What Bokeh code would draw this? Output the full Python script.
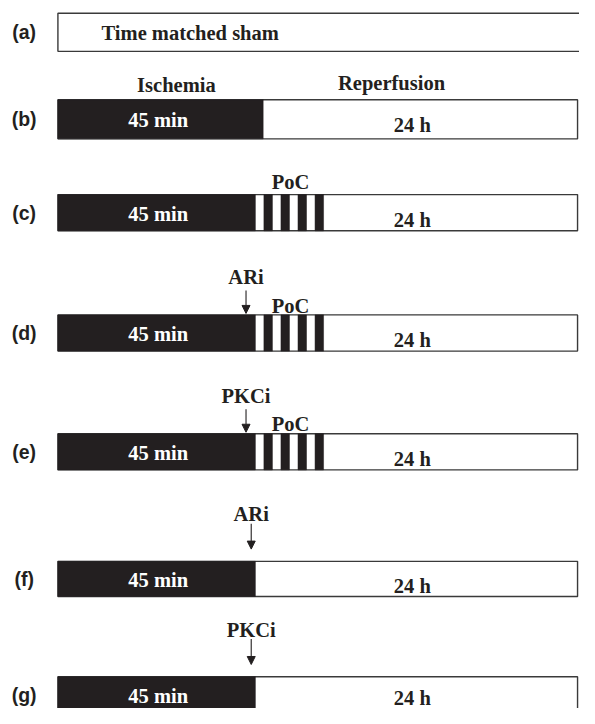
from bokeh.plotting import figure
from bokeh.models import ColumnDataSource, Range1d, Arrow, NormalHead
from bokeh.core.properties import value
from bokeh.embed import file_html
from bokeh.resources import INLINE

# ---------------- data (schematic timeline units, 0 = start of protocol, 100 = end of box) ----
row_labels = ["(a)", "(b)", "(c)", "(d)", "(e)", "(f)", "(g)"]
row_center = [32.5, 121.5, 217, 340, 461.5, 591.5, 710]
row_height = [39, 40, 37, 37, 37, 36, 37]
ischemia_end = [0, 39.5, 38.0, 38.0, 38.0, 38.0, 38.0]
poc_cycles = [0, 0, 4, 4, 4, 0, 0]
poc_cycle_len = 3.28
drug = ["", "", "", "ARi", "PKCi", "ARi", "PKCi"]
drug_at = [0, 0, 0, 36.2, 36.2, 37.2, 37.2]
timeline_end = 100
sham_text = "Time matched sham"
ischemia_text = "45 min"
reperfusion_text = "24 h"
phase_titles = ["Ischemia", "Reperfusion"]
phase_title_at = [22.8, 64.2]
poc_text = "PoC"

INK = "#231f20"
SERIF = value("Liberation Serif")
SANS = value("Liberation Sans")
FS = "20.5px"

px_per_unit = 5.34
ref_left = 59
W, H = 579, 708

p = figure(width=W, height=H, output_backend="svg", toolbar_location=None,
           x_range=Range1d(-ref_left / px_per_unit, (595 - ref_left) / px_per_unit),
           y_range=Range1d(724, 0), min_border=0)
p.axis.visible = False
p.grid.visible = False
p.outline_line_color = None
p.background_fill_color = "white"
p.border_fill_color = "white"

n = len(row_labels)
tops = [c - h / 2 for c, h in zip(row_center, row_height)]
bots = [c + h / 2 for c, h in zip(row_center, row_height)]

# outline boxes
box_right = [timeline_end + (2 if i == 0 else 0) for i in range(n)]
p.quad(left=[0] * n, right=box_right, top=tops, bottom=bots,
       fill_color="white", line_color="#3a3a3a", line_width=1.4)

# ischemia blocks and PoC stripes
bl, br, bt, bb = [], [], [], []
for i in range(n):
    if ischemia_end[i] > 0:
        bl.append(0); br.append(ischemia_end[i]); bt.append(tops[i]); bb.append(bots[i])
    for k in range(poc_cycles[i]):
        s = ischemia_end[i] + k * poc_cycle_len + poc_cycle_len / 2
        bl.append(s); br.append(s + poc_cycle_len / 2); bt.append(tops[i]); bb.append(bots[i])
p.quad(left=bl, right=br, top=bt, bottom=bb, fill_color=INK, line_color=INK, line_width=0.5)

# row labels
p.text(x=[-6.5] * n, y=row_center, text=row_labels, text_font=SANS, text_font_style="bold",
       text_font_size="19.5px", text_color=INK, text_align="center", text_baseline="middle")

# sham text
p.text(x=[8.4], y=[row_center[0] + 0.5], text=[sham_text], text_font=SERIF, text_font_style="bold",
       text_font_size=FS, text_color=INK, text_align="left", text_baseline="middle")

# phase titles above (b)
p.text(x=phase_title_at, y=[tops[1] - 15, tops[1] - 17], text=phase_titles, text_font=SERIF,
       text_font_style="bold", text_font_size=FS, text_color=INK,
       text_align="center", text_baseline="middle")

# 45 min / 24 h labels
rows = [i for i in range(n) if ischemia_end[i] > 0]
p.text(x=[19.3] * len(rows), y=[row_center[i] + 1.0 for i in rows], text=[ischemia_text] * len(rows),
       text_font=SERIF, text_font_style="bold", text_font_size=FS, text_color="white",
       text_align="center", text_baseline="middle")
p.text(x=[68.2] * len(rows),
       y=[row_center[i] + (5.5 if i == 1 else (3.5 if i == n - 1 else 7)) for i in rows],
       text=[reperfusion_text] * len(rows),
       text_font=SERIF, text_font_style="bold", text_font_size=FS, text_color=INK,
       text_align="center", text_baseline="middle")

# PoC labels
poc_rows = [i for i in range(n) if poc_cycles[i] > 0]
p.text(x=[ischemia_end[i] + poc_cycles[i] * poc_cycle_len / 2 + 0.2 for i in poc_rows],
       y=[tops[i] - (9.5 if drug[i] else 13) for i in poc_rows], text=[poc_text] * len(poc_rows),
       text_font=SERIF, text_font_style="bold", text_font_size=FS, text_color=INK,
       text_align="center", text_baseline="middle")

# drug arrows and labels
drug_rows = [i for i in range(n) if drug[i]]
ax, ay0, ay1, lx, ly, lt = [], [], [], [], [], []
for i in drug_rows:
    if poc_cycles[i] > 0:
        ay0.append(tops[i] - 25); ay1.append(tops[i] - 1.5); ly.append(tops[i] - 39)
    else:
        ay0.append(tops[i] - 38.5); ay1.append(tops[i] - 12.5); ly.append(tops[i] - 48)
    ax.append(drug_at[i]); lx.append(drug_at[i]); lt.append(drug[i])

arrow_src = ColumnDataSource(dict(x=ax, y0=ay0, y1=ay1))
p.add_layout(Arrow(end=NormalHead(size=8, fill_color=INK, line_color=INK, line_width=1),
                   x_start="x", y_start="y0", x_end="x", y_end="y1",
                   line_color=INK, line_width=1.1, source=arrow_src))
p.text(x=lx, y=ly, text=lt, text_font=SERIF, text_font_style="bold", text_font_size=FS,
       text_color=INK, text_align="center", text_baseline="middle")

open("out.html", "w").write(file_html(p, INLINE))
